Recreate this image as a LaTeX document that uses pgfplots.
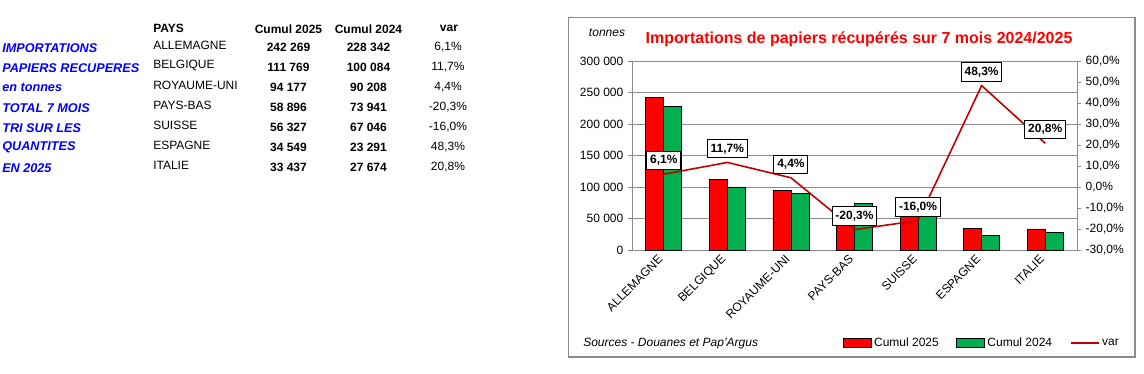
\documentclass[border=0pt]{standalone}
\usepackage{fontspec}
\setmainfont{Liberation Sans}
\usepackage{pgfplots}
\pgfplotsset{compat=1.18}
\definecolor{myred}{RGB}{255,0,0}
\definecolor{mygreen}{RGB}{0,176,80}
\definecolor{linered}{RGB}{192,0,0}
\definecolor{myblue}{RGB}{0,0,255}
\definecolor{framegray}{RGB}{140,140,140}
\newcommand\fs{\fontsize{9}{10.8}\selectfont}
\newcommand\fb{\fontsize{9.5}{11}\selectfont\bfseries\itshape}
\begin{document}
\begin{tikzpicture}
\begin{scope}[x=0.75pt,y=-0.75pt]
\path (0,0) rectangle (1144,374);
\draw[framegray, line width=1pt] (568.5,17.5) rectangle (1135,357);
% left table
\begin{scope}[every node/.style={inner sep=0pt}]
\node[anchor=west,font=\fs\bfseries] at (153,28.5) {PAYS};
\node[font=\fs\bfseries] at (288.5,29) {Cumul 2025};
\node[font=\fs\bfseries] at (368.5,29) {Cumul 2024};
\node[font=\fs\bfseries] at (449,28) {var};
\foreach \lab [count=\i] in {IMPORTATIONS,PAPIERS RECUPERES,en tonnes,TOTAL 7 MOIS,TRI SUR LES,QUANTITES,EN 2025}
  \node[anchor=west,font=\fb,text=myblue] at (2,27.7+20*\i) {\lab};
\foreach \c [count=\i] in {ALLEMAGNE,BELGIQUE,ROYAUME-UNI,PAYS-BAS,SUISSE,ESPAGNE,ITALIE}
  \node[anchor=west,font=\fs] at (153,25.7+20*\i) {\c};
\foreach \a/\b/\v [count=\i] in {242 269/228 342/{6,1\%},111 769/100 084/{11,7\%},94 177/90 208/{4,4\%},58 896/73 941/{-20,3\%},56 327/67 046/{-16,0\%},34 549/23 291/{48,3\%},33 437/27 674/{20,8\%}}{
  \node[font=\fs\bfseries] at (288.5,27.3+20*\i) {\a};
  \node[font=\fs\bfseries] at (368.5,27.3+20*\i) {\b};
  \node[font=\fs] at (448,27.3+20*\i) {\v};
}
% chart texts
\node[font=\fs\itshape] at (607,33) {tonnes};
\node[font=\fontsize{12}{14}\selectfont\bfseries,text=myred] at (859,39) {Importations de papiers récupérés sur 7 mois 2024/2025};
\node[anchor=west,font=\fs\itshape] at (583,344) {Sources - Douanes et Pap'Argus};
\end{scope}
\end{scope}

\begin{axis}[at={(474pt,-187.5pt)}, anchor=south west, scale only axis,
  width=333.75pt, height=141.75pt,
  xmin=-0.5, xmax=6.5, ymin=0, ymax=300000,
  scaled y ticks=false,
  ybar=0pt, bar width=13.5pt,
  axis y line*=left, axis x line*=bottom,
  axis line style={framegray, line width=0.75pt},
  ytick={0,50000,...,300000},
  yticklabels={0,50 000,100 000,150 000,200 000,250 000,300 000},
  y tick label style={font=\fs},
  ymajorgrids, grid style={framegray, line width=0.75pt},
  tick align=outside, major tick length=3pt,
  tick style={framegray, line width=0.75pt},
  xtick={0,...,6},
  xticklabels={ALLEMAGNE,BELGIQUE,ROYAUME-UNI,PAYS-BAS,SUISSE,ESPAGNE,ITALIE},
  x tick label style={rotate=45, anchor=east, font=\fs},
  x tick style={draw=none},
  clip=false,
]
\addplot[fill=myred, draw=black, line width=0.6pt] coordinates {(0,242269) (1,111769) (2,94177) (3,58896) (4,56327) (5,34549) (6,33437)};
\addplot[fill=mygreen, draw=black, line width=0.6pt] coordinates {(0,228342) (1,100084) (2,90208) (3,73941) (4,67046) (5,23291) (6,27674)};
\end{axis}

\begin{axis}[at={(474pt,-187.5pt)}, anchor=south west, scale only axis,
  width=333.75pt, height=141.75pt,
  xmin=-0.5, xmax=6.5, ymin=-30, ymax=60,
  axis y line*=right, axis x line=none,
  axis line style={framegray, line width=0.75pt},
  ytick={-30,-20,...,60},
  yticklabels={{-30,0\%},{-20,0\%},{-10,0\%},{0,0\%},{10,0\%},{20,0\%},{30,0\%},{40,0\%},{50,0\%},{60,0\%}},
  y tick label style={font=\fs},
  tick align=outside, major tick length=3pt,
  tick style={framegray, line width=0.75pt},
  clip=false,
  legend columns=3,
  legend style={at={(0.473,-0.492)}, anchor=west, draw=none, fill=none, font=\fs, inner sep=0pt,
    /tikz/every even column/.append style={column sep=11pt}},
]
\addlegendimage{legend image code/.code={\draw[fill=myred,draw=black,line width=0.5pt] (0pt,-3.5pt) rectangle (21pt,3.5pt);}}
\addlegendentry{Cumul 2025}
\addlegendimage{legend image code/.code={\draw[fill=mygreen,draw=black,line width=0.5pt] (0pt,-3.5pt) rectangle (21pt,3.5pt);}}
\addlegendentry{Cumul 2024}
\addlegendimage{legend image code/.code={\draw[linered,line width=1.5pt] (0pt,0pt) -- (21pt,0pt);}}
\addlegendentry{var}
\addplot[forget plot, linered, line width=1.2pt, mark=none,
  nodes near coords, point meta=explicit symbolic,
  every node near coord/.append style={draw=black, fill=white, text=black, font=\fs\bfseries, line width=0.75pt, inner xsep=2.5pt, inner ysep=3pt, anchor=south, yshift=3pt}]
  coordinates {(0,6.1)[{6,1\%}] (1,11.7)[{11,7\%}] (2,4.4)[{4,4\%}] (3,-20.3)[{-20,3\%}] (4,-16.0)[{-16,0\%}] (5,48.3)[{48,3\%}] (6,20.8)[{20,8\%}]};
\end{axis}
\end{tikzpicture}
\end{document}
